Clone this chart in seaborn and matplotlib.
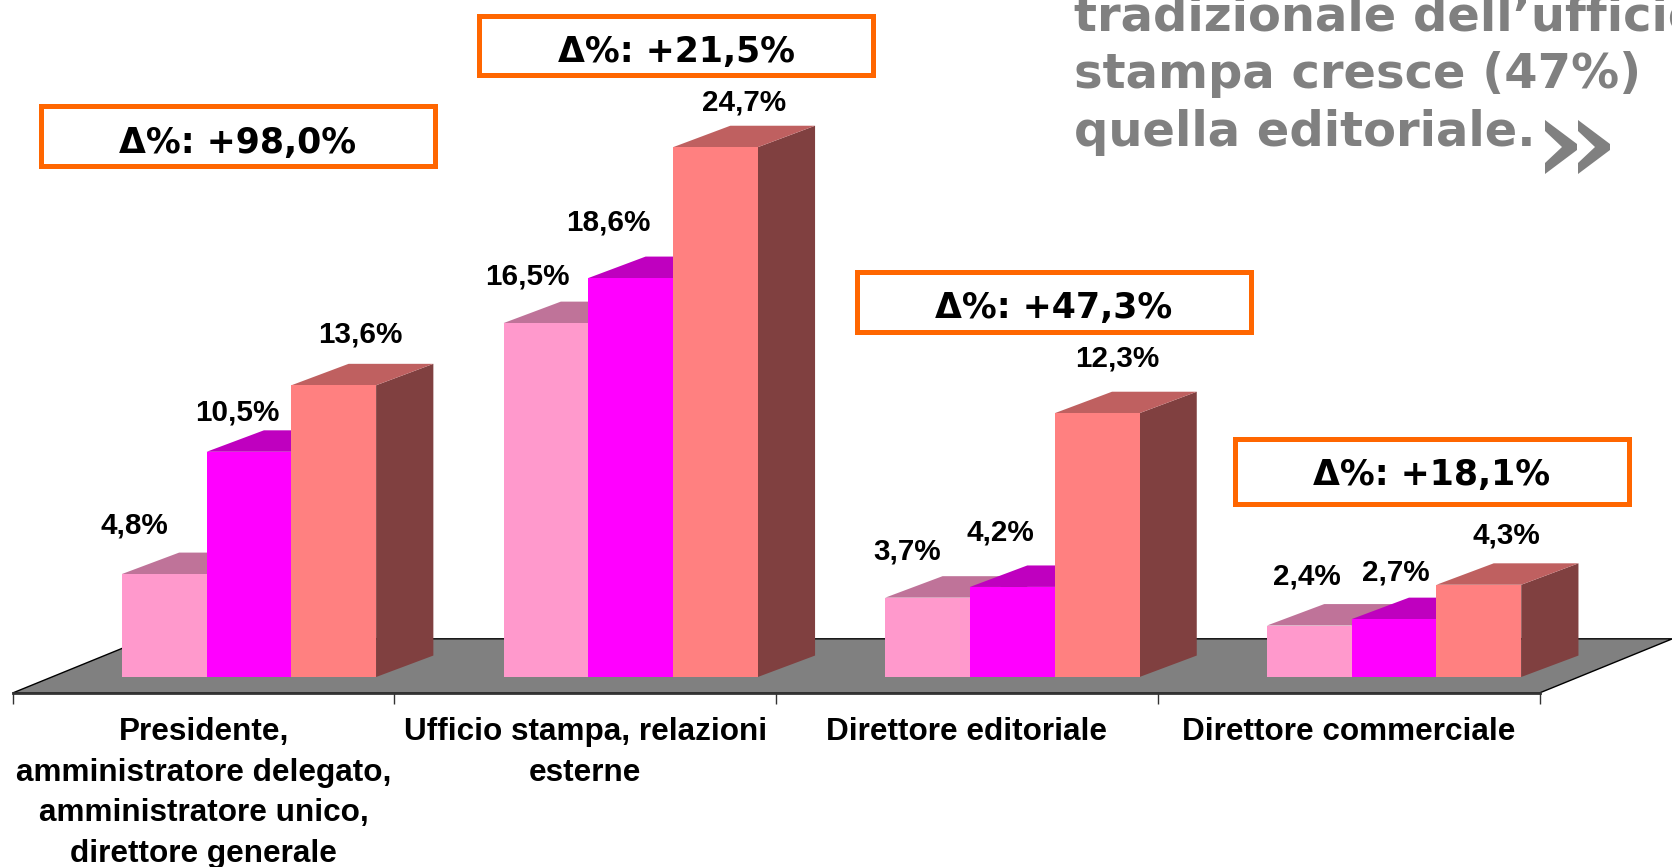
"""3D-look grouped bars for the press office roles chart."""

import matplotlib

matplotlib.use("Agg")

import matplotlib.pyplot as plt
import numpy as np
import pandas as pd
import seaborn as sns
from matplotlib.colors import to_rgb
from matplotlib.patches import Polygon, Rectangle
from matplotlib.transforms import Affine2D

categories = [
    "Presidente,\namministratore delegato,\namministratore unico,\ndirettore generale",
    "Ufficio stampa, relazioni\nesterne",
    "Direttore editoriale",
    "Direttore commerciale",
]
series_a = [4.8, 16.5, 3.7, 2.4]
series_b = [10.5, 18.6, 4.2, 2.7]
series_c = [13.6, 24.7, 12.3, 4.3]
deltas = [98.0, 21.5, 47.3, 18.1]
headline = ["tradizionale dell’ufficio", "stampa cresce (47%)", "quella editoriale."]

W, H = 1672, 867
DPI = 100
PX_PER_CAT = 381.7
PX_PER_PCT = 21.45
CENTER0_X = 249.0
BASE_Y = 677.0

# depth of the fake 3D, in data units
BAR_DX, BAR_DY = 0.150, 1.0
FLOOR_FRONT, FLOOR_BACK = -0.744, 1.78
FLOOR_LEFT = -0.619
FLOOR_DX = 0.348

colors = {"a": "#FF99CC", "b": "#FF00FF", "c": "#FF8080"}
GREY = "#808080"
ORANGE = "#FF6600"
DARK = "#333333"

# label offsets from each bar's top centre, in pixels
label_dx = {"a": [-30, -19, -20, -2], "b": [-12, -22, -12, 2], "c": [27, 29, 20, 28]}
label_dy = {"a": [49, 47, 46, 49], "b": [39, 56, 54, 47], "c": [51, 45, 55, 49]}
# delta boxes: left, top, right, bottom in pixels
boxes = [(41, 106, 435, 166), (479, 16, 873, 75), (857, 272, 1251, 332), (1235, 439, 1629, 504)]
box_text_y = [143, 52, 308, 475]

sns.set_style("white")
plt.rcParams["font.family"] = ["Liberation Sans", "DejaVu Sans"]

df = pd.DataFrame(
    {
        "category": categories * 3,
        "series": ["a"] * 4 + ["b"] * 4 + ["c"] * 4,
        "value": series_a + series_b + series_c,
    }
)

fig = plt.figure(figsize=(W / DPI, H / DPI), dpi=DPI)
ax = fig.add_axes([0, 0, 1, 1])
ax.patch.set_alpha(0)
sns.barplot(
    data=df,
    x="category",
    y="value",
    hue="series",
    order=categories,
    hue_order=list(colors),
    palette=colors,
    width=0.666,
    gap=0,
    saturation=1,
    legend=False,
    zorder=3,
    linewidth=0,
    errorbar=None,
    ax=ax,
)
ax.set_xlim(-CENTER0_X / PX_PER_CAT, (W - CENTER0_X) / PX_PER_CAT)
ax.set_ylim(-(H - BASE_Y) / PX_PER_PCT, BASE_Y / PX_PER_PCT)
ax.set_xlabel("")
ax.set_ylabel("")

# floor
floor = [
    (FLOOR_LEFT, FLOOR_FRONT),
    (FLOOR_LEFT + 4, FLOOR_FRONT),
    (FLOOR_LEFT + 4 + FLOOR_DX, FLOOR_BACK),
    (FLOOR_LEFT + FLOOR_DX, FLOOR_BACK),
]
ax.add_patch(Polygon(floor, closed=True, facecolor=GREY, edgecolor="black", linewidth=1, zorder=1))

# side and top faces come from the bars seaborn drew
bars = [b for b in ax.patches if isinstance(b, Rectangle) and b.get_width() > 0]
keys = list(colors)
for i, bar in enumerate(bars):
    key = keys[i // 4]
    rgb = np.array(to_rgb(colors[key]))
    x0, x1 = bar.get_x(), bar.get_x() + bar.get_width()
    h = bar.get_height()
    side = [(x1, 0), (x1 + BAR_DX, BAR_DY), (x1 + BAR_DX, h + BAR_DY), (x1, h)]
    top = [(x0, h), (x1, h), (x1 + BAR_DX, h + BAR_DY), (x0 + BAR_DX, h + BAR_DY)]
    ax.add_patch(Polygon(side, closed=True, facecolor=rgb * 0.5, linewidth=0, zorder=2))
    ax.add_patch(Polygon(top, closed=True, facecolor=rgb * 0.75, linewidth=0, zorder=2))
    ax.annotate(
        f"{h:.1f}%".replace(".", ","),
        xy=((x0 + x1) / 2, h),
        xytext=(label_dx[key][i % 4], label_dy[key][i % 4]),
        textcoords="offset pixels",
        ha="center",
        va="center",
        fontsize=21.3,
        fontweight="bold",
        color="black",
        zorder=5,
    )

# axis line with separators, names sit between them
for name in ["top", "left", "right"]:
    ax.spines[name].set_visible(False)
ax.spines["bottom"].set_position(("data", FLOOR_FRONT))
ax.spines["bottom"].set_bounds(FLOOR_LEFT, FLOOR_LEFT + 4)
ax.spines["bottom"].set_linewidth(2)
ax.spines["bottom"].set_color(DARK)
ax.spines["bottom"].set_zorder(4)
ax.set_yticks([])
ax.set_xticks(FLOOR_LEFT + np.arange(5), labels=[""] * 5)
ax.set_xticks(FLOOR_LEFT + np.arange(4) + 0.5, labels=categories, minor=True)
ax.tick_params(axis="x", which="major", length=8, width=1, color=DARK, bottom=True)
ax.tick_params(axis="x", which="minor", length=0, pad=17.5, labelsize=22.7, labelcolor="black", bottom=True)
for lab in ax.get_xticklabels(minor=True):
    lab.set_fontweight("bold")
    lab.set_linespacing(1.46)
    lab.set_va("top")
    lab.set_ha("center")

# page elements placed in pixels, origin top left
px = Affine2D().scale(1, -1).translate(0, H)
for (left, top, right, bottom), delta, text_y in zip(boxes, deltas, box_text_y):
    fig.add_artist(
        Rectangle((left, top), right - left, bottom - top, transform=px, facecolor="white",
                  edgecolor=ORANGE, linewidth=3.6)
    )
    fig.text(
        (left + right) / 2, text_y, f"Δ%: +{delta:.1f}%".replace(".", ","),
        transform=px, ha="center", va="center", fontsize=25, fontweight="bold",
        family="DejaVu Sans", color="black",
    )

for line, y in zip(headline, [17, 74, 132]):
    fig.text(1074, y, line, transform=px, ha="left", va="center", fontsize=34.6, fontweight="bold",
             family="DejaVu Sans", color=GREY)

# double chevron after the headline
chevron = np.array([(0, 0), (32, 24), (32, 30), (0, 54), (0, 43), (17, 27), (0, 11)], dtype=float)
for x_start in (1545, 1578):
    fig.add_artist(Polygon(chevron + [x_start, 120], closed=True, transform=px, facecolor=GREY, linewidth=0))

fig.savefig("out.png", dpi=DPI)
plt.close(fig)
